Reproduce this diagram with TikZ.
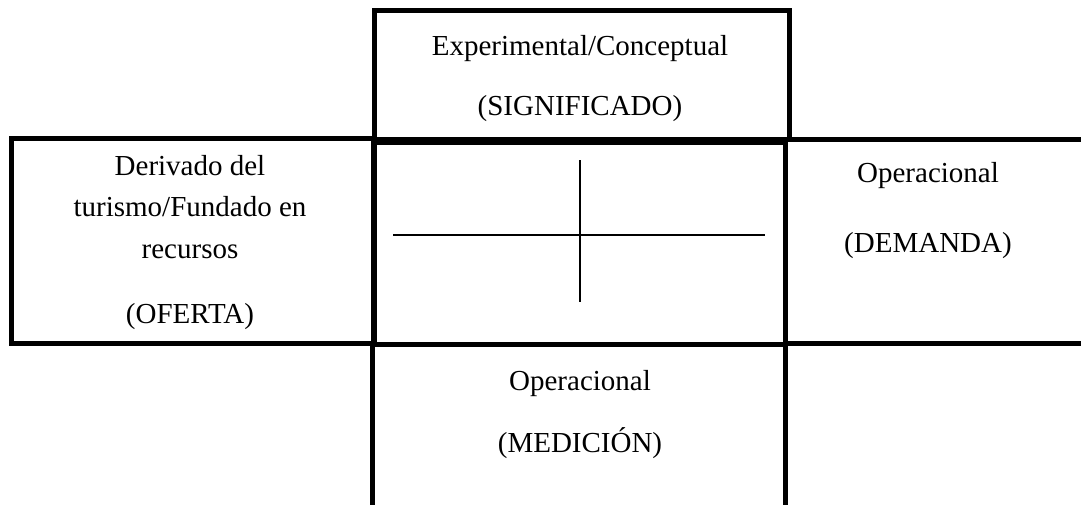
\documentclass[tikz,border=0pt]{standalone}
\usepackage{fontspec}
\setmainfont{Liberation Serif}
\begin{document}
\begin{tikzpicture}[x=1pt,y=-1pt,
  box/.style={draw=black,line width=5pt,line join=miter,rectangle,inner sep=0pt,outer sep=0pt},
  lbl/.style={anchor=base,inner sep=0pt,font=\fontsize{29}{35}\selectfont},
  thin/.style={draw=black,line width=1.4pt}]
\useasboundingbox (0,0) rectangle (1081,504);
\clip (0,0) rectangle (1081,504);
% five panels of the cross layout
\node[box,minimum width=414.5pt,minimum height=128.5pt] (top) at (581.75,74.75) {};
\node[box,minimum width=363pt,minimum height=205pt] (left) at (192.5,241) {};
\node[box,minimum width=315pt,minimum height=203.5pt] (right) at (942.5,241.25) {};
\node[box,minimum width=412pt,minimum height=202pt] (center) at (579,243) {};
\node[box,minimum width=413.5pt,minimum height=164pt] (bottom) at (578.75,426) {};
% axes inside the central panel
\coordinate (hl) at (393,235);
\coordinate (hr) at (765,235);
\coordinate (vt) at (580,160);
\coordinate (vb) at (580,302);
\draw[thin] (hl) -- (hr);
\draw[thin] (vt) -- (vb);
% labels
\node[lbl] (t1) at (580,55) {Experimental/Conceptual};
\node[lbl] (t2) at (580,115) {(SIGNIFICADO)};
\node[lbl] (l1) at (190,175) {Derivado del};
\node[lbl] (l2) at (190,216) {turismo/Fundado en};
\node[lbl] (l3) at (190,258) {recursos};
\node[lbl] (l4) at (190,323) {(OFERTA)};
\node[lbl] (r1) at (928,182) {Operacional};
\node[lbl] (r2) at (928,252) {(DEMANDA)};
\node[lbl] (b1) at (580,390) {Operacional};
\node[lbl] (b2) at (580,452) {(MEDICIÓN)};
\end{tikzpicture}
\end{document}
